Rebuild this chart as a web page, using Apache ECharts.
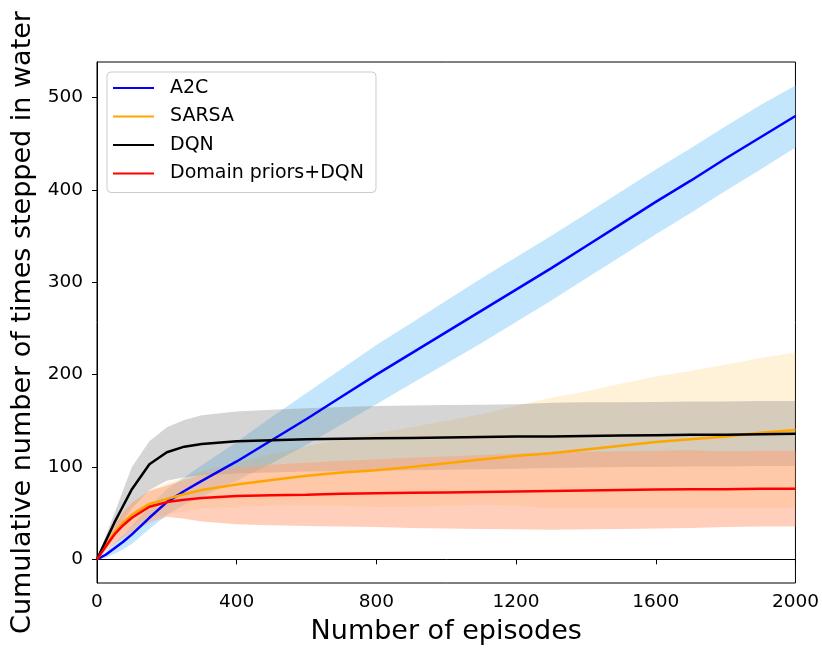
<!DOCTYPE html>
<html>
<head>
<meta charset="utf-8">
<script src="https://cdn.jsdelivr.net/npm/echarts@6/dist/echarts.min.js"></script>
<style>
  html, body { margin: 0; padding: 0; background: #fff; }
  #chart { width: 822px; height: 650px; }
</style>
</head>
<body>
<div id="chart"></div>
<script>
// ---- data ----
const episodes = [0,25,50,75,100,150,200,250,300,400,500,600,700,800,900,1000,1100,1200,1300,1400,1500,1600,1700,1800,1900,2000];

const a2cMean  = [0,5,12,19,27,45,62,74,85,106,129,152,176,200,223,246,269,292,315,339,363,387,410,434,457,480];
const a2cLow   = [0,2,6,11,17,33,48,59,68,85,104,124,146,168,190,212,234,257,280,304,328,352,375,399,422,446];
const a2cHigh  = [0,8,18,27,37,57,76,89,102,127,154,180,206,232,256,280,304,327,350,374,398,422,445,469,492,513];

const sarsaMean = [0,15,29,40,48.5,60,65.5,70.5,75,81,86,90.5,94,96.5,100,104,108,112,115,119,123,127,130,133,137,140];
const sarsaLow  = [0,11,21,29,35.5,45,48.5,52.5,55,57,58,58.5,58,56.5,57,58,59,58,55,56,56,56,56,55,56,56];
const sarsaHigh = [0,19,37,51,61.5,75,82.5,88.5,95,105,114,122.5,130,136.5,143,150,157,166,175,182,190,198,204,211,218,224];

const dqnMean = [0,20,40,58,76,103,116,122,125,128,129,130,130.5,131,131.5,132,132.5,133,133,133.5,134,134.5,135,135,135.5,136];
const dqnLow  = [0,13,28,42,55,75,85,89,91,93,94,95,95.5,96,96.5,97,97.5,98,99,99.5,100,100,100.5,100.5,101,101];
const dqnHigh = [0,25,50,75,100,128,143,151,156,160,162,163.5,165,166,166.5,167,167.5,168,169.5,170,170,170.5,171,171,171.5,171.5];

const priorMean = [0,14,27,37,45,57,62,64.5,66.5,68.5,69.5,70,71,71.5,72,72.5,73,73.5,74,74.5,75,75.5,76,76,76.5,76.5];
const priorLow  = [0,9,17,23,29,40,46,44,41,38,37,36,35.5,35,34,33.5,33,32.5,32,32.5,33,33.5,34,35,35.5,35.5];
const priorHigh = [0,19,37,51,61,74,80,86,92,99,102.5,104.5,106.5,108.5,110,111.5,113,114.5,116,116.5,117,117.5,118,117,117.5,117.5];

const seriesNames = ['A2C', 'SARSA', 'DQN', 'Domain priors+DQN'];
const xTicks = [0, 400, 800, 1200, 1600, 2000];
const yTicks = [0, 100, 200, 300, 400, 500];

// ---- chart ----
const FONT = 'DejaVu Sans';
const chart = echarts.init(document.getElementById('chart'), null, { renderer: 'canvas' });

function pairs(ys) { return episodes.map((x, i) => [x, ys[i]]); }

function band(name, lo, hi, color, order) {
  return {
    type: 'custom',
    name: name + ' band',
    silent: true,
    clip: true,
    z: 1,
    encode: { x: 0, y: [1, 2] },
    data: episodes.map((x, i) => [x, lo[i], hi[i]]),
    renderItem: function (params, api) {
      if (params.dataIndex !== 0) return null;
      const top = episodes.map((x, i) => api.coord([x, hi[i]]));
      const bot = episodes.map((x, i) => api.coord([x, lo[i]])).reverse();
      return { type: 'polygon', z2: order, shape: { points: top.concat(bot) }, style: { fill: color } };
    }
  };
}

function line(name, ys, color, order) {
  return {
    type: 'line',
    name: name,
    data: pairs(ys),
    symbol: 'none',
    showSymbol: false,
    z: 3 + order,
    color: color,
    lineStyle: { color: color, width: 2.5 },
    emphasis: { disabled: true }
  };
}

const option = {
  animation: false,
  backgroundColor: '#ffffff',
  textStyle: { fontFamily: FONT },
  grid: {
    left: 97, right: 26, top: 62, bottom: 67,
    show: true, borderColor: '#000', borderWidth: 1, backgroundColor: 'transparent'
  },
  legend: {
    data: seriesNames,
    orient: 'vertical',
    left: 107, top: 72,
    padding: [6, 12, 9, 6],
    itemGap: 8.5,
    itemWidth: 41, itemHeight: 2,
    icon: 'rect',
    backgroundColor: 'rgba(255,255,255,0.8)',
    borderColor: '#cccccc', borderWidth: 1, borderRadius: 4,
    textStyle: { fontFamily: FONT, fontSize: 19, color: '#000', lineHeight: 20, padding: [0, 0, 0, 11] }
  },
  xAxis: {
    type: 'value', min: 0, max: 2000, interval: 400,
    name: 'Number of episodes', nameLocation: 'middle', nameGap: 35,
    nameTextStyle: { fontFamily: FONT, fontSize: 27, color: '#000' },
    axisLine: { show: true, lineStyle: { color: '#000', width: 1 } },
    axisTick: { show: true, length: 5, lineStyle: { color: '#000' } },
    axisLabel: { fontFamily: FONT, fontSize: 18.5, color: '#000', margin: 10, customValues: xTicks,
                 formatter: function (v) { return String(v); } },
    splitLine: { show: false }
  },
  yAxis: {
    type: 'value', min: -25.6, max: 538.5,
    name: 'Cumulative number of times stepped in water', nameLocation: 'middle', nameGap: 57, nameRotate: 90,
    nameTextStyle: { fontFamily: FONT, fontSize: 27, color: '#000' },
    axisLine: { show: true, lineStyle: { color: '#000', width: 1 } },
    axisTick: { show: true, length: 5, lineStyle: { color: '#000' }, customValues: yTicks },
    axisLabel: { fontFamily: FONT, fontSize: 18.5, color: '#000', margin: 14, customValues: yTicks,
                 formatter: function (v) { return String(v); } },
    splitLine: { show: false }
  },
  series: [
    band('A2C', a2cLow, a2cHigh, 'rgba(135,206,250,0.5)', 1),
    band('SARSA', sarsaLow, sarsaHigh, 'rgba(255,165,0,0.15)', 2),
    band('DQN', dqnLow, dqnHigh, 'rgba(128,128,128,0.33)', 3),
    band('Domain priors+DQN', priorLow, priorHigh, 'rgba(255,160,122,0.5)', 4),
    line('A2C', a2cMean, '#0000ff', 0),
    line('SARSA', sarsaMean, '#ffa500', 1),
    line('DQN', dqnMean, '#000000', 2),
    line('Domain priors+DQN', priorMean, '#ff0000', 3)
  ]
};
chart.setOption(option);
</script>
</body>
</html>
